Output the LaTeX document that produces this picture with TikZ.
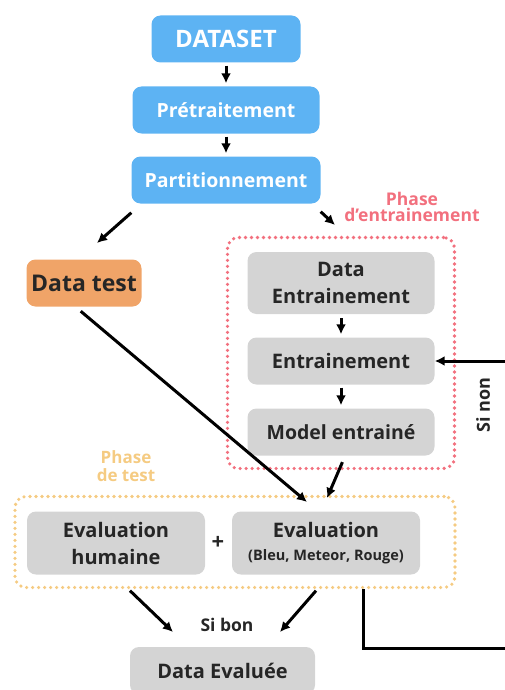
\documentclass[tikz,border=0pt]{standalone}
\usepackage{fontspec}
\setmainfont{Open Sans}
\usetikzlibrary{positioning,arrows.meta}

\definecolor{stepblue}{HTML}{5DB3F3}
\definecolor{steporange}{HTML}{F0A468}
\definecolor{stepgray}{HTML}{D4D4D4}
\definecolor{trainred}{HTML}{F2707E}
\definecolor{testyellow}{HTML}{F5CB82}

\begin{document}
\begin{tikzpicture}[x=1pt,y=-1pt]
        \tikzstyle{every node}=[font=\bfseries,inner sep=0pt,rounded corners=9pt]
        \tikzstyle{bluebox}=[fill=stepblue,text=white,minimum height=47pt]
        \tikzstyle{graybox}=[fill=stepgray,text=black!85,minimum width=187pt,align=center]
        \tikzstyle{arr}=[-{Latex[length=10pt,width=10pt]},line width=3pt]
        \tikzstyle{phasebox}=[line width=3.6pt,dash pattern=on 0pt off 6pt,line cap=round,rounded corners=11pt]
        \useasboundingbox (0,0) rectangle (505,690);

        % data preparation
        \node[bluebox,minimum width=149pt,font=\fontsize{24}{28}\bfseries] (dataset) at (226,39) {DATASET};
        \node[bluebox,minimum width=187pt,font=\fontsize{19.5}{24}\bfseries] (pretrait) at (226,110) {Prétraitement};
        \node[bluebox,minimum width=189pt,font=\fontsize{19.5}{24}\bfseries] (part) at (226,180) {Partitionnement};
        \draw[arr,shorten <=3pt,shorten >=3pt] (dataset) -- (pretrait);
        \draw[arr,shorten <=3pt,shorten >=3pt] (pretrait) -- (part);

        % data test
        \node[fill=steporange,text=black!85,minimum width=115pt,minimum height=47pt,font=\fontsize{23}{26}\bfseries] (datatest) at (84,283) {Data test};
        \coordinate (testtip) at (97,243);
        \draw[arr] ([yshift=-9pt]part.south west) -- (testtip);

        % phase d'entrainement
        \coordinate (traintip) at (335,225);
        \draw[arr] ([yshift=-8pt]part.south east) -- (traintip);
        \node[text=trainred,align=center,font=\fontsize{17.5}{16}\bfseries] (trainlabel) at (412,207) {Phase\\d'entrainement};
        \node[draw=trainred,phasebox,minimum width=227pt,minimum height=231pt] (trainphase) at (341,353) {};

        \node[graybox,minimum height=62pt,font=\fontsize{20}{27}\bfseries] (datatrain) at (341,283) {Data\\Entrainement};
        \node[graybox,minimum height=47pt,font=\fontsize{20}{24}\bfseries] (train) at (341,361) {Entrainement};
        \node[graybox,minimum height=47pt,font=\fontsize{19.5}{24}\bfseries] (model) at (341,432) {Model entrainé};
        \draw[arr,shorten <=4pt,shorten >=3pt] (datatrain) -- (train);
        \draw[arr,shorten <=3pt,shorten >=3pt] (train) -- (model);

        % phase de test
        \node[text=testyellow,align=center,font=\fontsize{17}{18}\bfseries] (testlabel) at (126,466) {Phase\\de test};
        \node[draw=testyellow,phasebox,minimum width=440pt,minimum height=91pt] (testphase) at (235,542) {};

        \node[graybox,minimum width=178pt,minimum height=63pt,font=\fontsize{20}{27}\bfseries] (humeval) at (116,543) {Evaluation\\humaine};
        \node[font=\fontsize{22}{24}\bfseries,text=black!85] (plus) at (218,543) {+};
        \node[graybox,minimum width=188pt,minimum height=63pt,font=\fontsize{20}{24}\bfseries] (autoeval) at (326,543) {Evaluation\\[-1pt]{\fontsize{14.5}{16}\bfseries (Bleu, Meteor, Rouge)}};

        \coordinate (evaltip) at (307,502);
        \coordinate (modeltip) at (327,498);
        \draw[arr,shorten <=7pt] (datatest.-110) -- (evaltip);
        \draw[arr,shorten <=7pt] (model.-80) -- (modeltip);

        % resultat
        \node[font=\fontsize{17.5}{20}\bfseries,text=black!85] (sibon) at (227,625) {Si bon};
        \node[graybox,minimum width=185pt,minimum height=47pt,font=\fontsize{20}{24}\bfseries] (dataeval) at (222.5,670.5) {Data Evaluée};
        \coordinate (lefttip) at (173,632);
        \coordinate (righttip) at (280,632);
        \draw[arr] ([xshift=14pt,yshift=-16pt]humeval.south) -- (lefttip);
        \draw[arr] ([xshift=-10pt,yshift=-16pt]autoeval.south) -- (righttip);

        % retour si non
        \coordinate (loopdown) at (363,648);
        \coordinate (loopright) at (510,648);
        \coordinate (loopup) at (510,361);
        \draw[arr] (testphase.south -| loopdown) -- (loopdown) -- (loopright) -- (loopup) -- (train.east);
        \node[rotate=90,font=\fontsize{18}{20}\bfseries,text=black!85] (sinon) at (483,405) {Si non};
\end{tikzpicture}
\end{document}
